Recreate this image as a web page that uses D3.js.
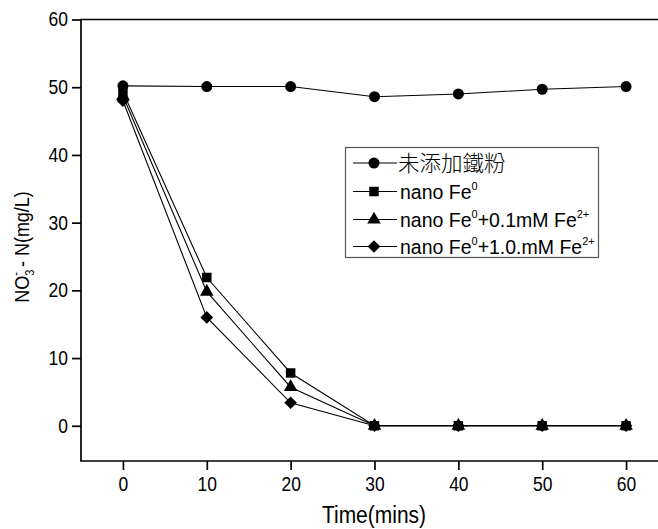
<!DOCTYPE html>
<html>
<head>
<meta charset="utf-8">
<script src="https://cdn.jsdelivr.net/npm/d3@7"></script>
<style>
  html, body { margin: 0; padding: 0; background: #fff; }
  svg { display: block; }
  text { font-family: "Liberation Sans", Arial, sans-serif; fill: #000; }
</style>
</head>
<body>
<svg id="chart" width="658" height="529"></svg>
<script>
// ---- data ----
const times = [0, 10, 20, 30, 40, 50, 60];
const noIron      = [50.2, 50.1, 50.1, 48.6, 49.0, 49.7, 50.1];
const nanoFe      = [49.3, 21.9, 7.8, 0, 0, 0, 0];
const nanoFe01    = [48.7, 19.8, 5.7, 0, 0, 0, 0];
const nanoFe10    = [48.0, 16.0, 3.4, 0, 0, 0, 0];
const xTicks = [0, 10, 20, 30, 40, 50, 60];
const yTicks = [0, 10, 20, 30, 40, 50, 60];
const seriesValues = [noIron, nanoFe, nanoFe01, nanoFe10];

// rotated-square diamond
const symbolDiamondSq = {
  draw(ctx, size) {
    const r = Math.sqrt(size / 2);
    ctx.moveTo(0, -r); ctx.lineTo(r, 0); ctx.lineTo(0, r); ctx.lineTo(-r, 0); ctx.closePath();
  }
};
const markerTypes = [d3.symbolCircle, d3.symbolSquare, d3.symbolTriangle, symbolDiamondSq];
const markerSizes = [95, 90, 80, 80];

const svg = d3.select("#chart");
const x = d3.scaleLinear().domain([-5, 65]).range([81, 668]);
const y = d3.scaleLinear().domain([-5.2, 60]).range([461, 19.5]);
const SY = 1.15; // vertical stretch of glyphs seen in the reference

// ---- axes ----
const axisStroke = 1.7;
const gAx = svg.append("g");
const left = gAx.append("g").attr("transform", "translate(81,0)")
  .call(d3.axisLeft(y).tickValues(yTicks).tickSize(9).tickPadding(4).tickFormat(d3.format("d")));
left.select(".domain").remove();
left.selectAll(".tick line").attr("stroke", "#000").attr("stroke-width", axisStroke);
left.selectAll(".tick text").style("font-size", "17.5px")
  .attr("font-family", "Liberation Sans, Arial, sans-serif")
  .attr("transform", `scale(1,${SY})`);
gAx.append("line").attr("x1", 81).attr("x2", 81).attr("y1", y(60) - 0.8).attr("y2", 461)
  .attr("stroke", "#000").attr("stroke-width", axisStroke);
gAx.append("line").attr("x1", 81).attr("x2", 668).attr("y1", y(60)).attr("y2", y(60))
  .attr("stroke", "#000").attr("stroke-width", axisStroke);
const bottom = gAx.append("g").attr("transform", "translate(0,461)")
  .call(d3.axisBottom(x).tickValues(xTicks).tickSize(9).tickPadding(5).tickFormat(d3.format("d")));
bottom.select(".domain").remove();
bottom.selectAll(".tick line").attr("stroke", "#000").attr("stroke-width", axisStroke);
bottom.selectAll(".tick text").style("font-size", "17.5px")
  .attr("font-family", "Liberation Sans, Arial, sans-serif")
  .attr("transform", `scale(1,${SY})`);
gAx.append("line").attr("x1", 80.2).attr("x2", 668).attr("y1", 461).attr("y2", 461)
  .attr("stroke", "#000").attr("stroke-width", axisStroke);

// ---- titles ----
svg.append("text").attr("transform", `translate(374,523) scale(1,${SY})`).attr("text-anchor", "middle")
  .style("font-size", "21px").text("Time(mins)");

const yt = svg.append("text").attr("transform", `translate(29,247) rotate(-90) scale(1,1.08)`)
  .attr("text-anchor", "middle").style("font-size", "18px");
yt.append("tspan").text("NO");
yt.append("tspan").attr("dy", 5).style("font-size", "11px").text("3");
yt.append("tspan").attr("dx", -6).attr("dy", -13).style("font-size", "11px").text("-");
yt.append("tspan").attr("dy", 8).text(" - N(mg/L)");

// ---- series ----
const line = d3.line().x((d, i) => x(times[i])).y(d => y(d));
const gS = svg.append("g");
seriesValues.forEach(vals => {
  gS.append("path").datum(vals).attr("d", line)
    .attr("fill", "none").attr("stroke", "#000").attr("stroke-width", 1.1);
});
seriesValues.forEach((vals, k) => {
  const sym = d3.symbol().type(markerTypes[k]).size(markerSizes[k]);
  gS.selectAll(".m" + k).data(vals).enter().append("path")
    .attr("transform", (d, i) => `translate(${x(times[i])},${y(d)})`)
    .attr("d", sym).attr("fill", "#000");
});

// ---- legend ----
const lg = svg.append("g");
lg.append("rect").attr("x", 345.5).attr("y", 147.5).attr("width", 253).attr("height", 110)
  .attr("fill", "#fff").attr("stroke", "#555").attr("stroke-width", 1.2);
const rowsY = [163, 191.5, 219.5, 246.5];
rowsY.forEach((ry, k) => {
  lg.append("line").attr("x1", 353).attr("x2", 397).attr("y1", ry).attr("y2", ry)
    .attr("stroke", "#000").attr("stroke-width", 1.1);
  lg.append("path").attr("transform", `translate(374,${ry})`)
    .attr("d", d3.symbol().type(markerTypes[k]).size(markerSizes[k])()).attr("fill", "#000");
});
lg.append("text").attr("x", 398).attr("y", rowsY[0] + 8)
  .style("font-family", "'Noto Sans CJK TC', 'Noto Sans CJK SC', sans-serif")
  .style("font-size", "21.5px").style("font-weight", "300").text("未添加鐵粉");

function feLabel(ry, parts) {
  const t = lg.append("text").attr("transform", `translate(400,${ry + 7}) scale(1,1.05)`)
    .style("font-size", "19.5px");
  let pending = 0;
  parts.forEach(p => {
    if (p.sup) {
      t.append("tspan").attr("dy", -8 + pending).style("font-size", "11px").text(p.sup);
      pending = 8;
    } else {
      t.append("tspan").attr("dy", pending).text(p.t);
      pending = 0;
    }
  });
}
feLabel(rowsY[1], [{t: "nano Fe"}, {sup: "0"}]);
feLabel(rowsY[2], [{t: "nano Fe"}, {sup: "0"}, {t: "+0.1mM Fe"}, {sup: "2+"}]);
feLabel(rowsY[3], [{t: "nano Fe"}, {sup: "0"}, {t: "+1.0.mM Fe"}, {sup: "2+"}]);
</script>
</body>
</html>
